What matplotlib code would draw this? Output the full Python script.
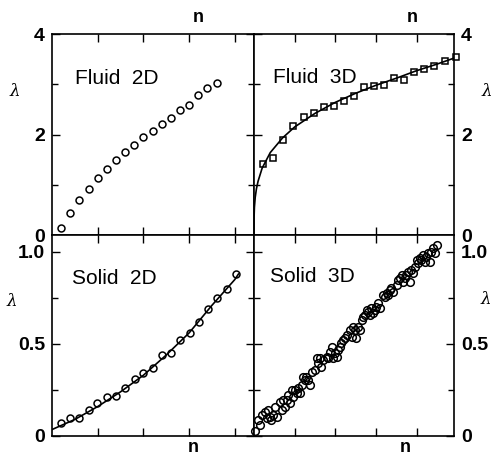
import matplotlib
matplotlib.use('Agg')
import matplotlib.pyplot as plt

plt.rcParams['font.family'] = ['Liberation Sans', 'DejaVu Sans']
plt.rcParams['mathtext.fontset'] = 'dejavuserif'

# ---------------- data ----------------
fluid2d_n = [0.2, 0.4, 0.6, 0.8, 1.0, 1.2, 1.4, 1.6, 1.8, 2.0, 2.2, 2.4, 2.6, 2.8, 3.0, 3.2, 3.4, 3.6]
fluid2d_l = [0.14, 0.43, 0.70, 0.92, 1.14, 1.32, 1.49, 1.66, 1.80, 1.95, 2.06, 2.20, 2.32, 2.49, 2.59, 2.78, 2.92, 3.03]

fluid3d_n = [0.23, 0.47, 0.72, 0.97, 1.23, 1.47, 1.73, 1.97, 2.22, 2.46, 2.71, 2.96, 3.20, 3.45, 3.69, 3.94, 4.18, 4.43, 4.69, 4.96]
fluid3d_l = [1.41, 1.53, 1.89, 2.16, 2.34, 2.43, 2.54, 2.57, 2.67, 2.77, 2.95, 2.97, 2.99, 3.12, 3.08, 3.25, 3.30, 3.37, 3.47, 3.55]
fluid3d_fit_n = [0.0, 0.002, 0.01, 0.03, 0.06, 0.1, 0.2, 0.4, 0.7, 1.0, 1.5, 2.0, 2.5, 3.0, 3.5, 4.0, 4.5, 4.92]
fluid3d_fit_l = [0.0, 0.35, 0.55, 0.75, 0.92, 1.07, 1.33, 1.64, 1.93, 2.15, 2.42, 2.64, 2.82, 2.98, 3.12, 3.27, 3.40, 3.52]

solid2d_n = [0.19, 0.39, 0.59, 0.80, 0.99, 1.20, 1.40, 1.60, 1.81, 2.00, 2.21, 2.41, 2.61, 2.81, 3.01, 3.22, 3.42, 3.62, 3.82, 4.03]
solid2d_l = [0.072, 0.10, 0.10, 0.14, 0.18, 0.21, 0.22, 0.26, 0.31, 0.34, 0.37, 0.44, 0.45, 0.52, 0.56, 0.62, 0.69, 0.75, 0.80, 0.88]
solid2d_fit_n = [0.0, 0.5, 1.0, 1.5, 2.0, 2.5, 3.0, 3.5, 4.0, 4.08]
solid2d_fit_l = [0.035, 0.09, 0.16, 0.24, 0.33, 0.44, 0.56, 0.71, 0.85, 0.88]

solid3d_n = [0.03, 0.11, 0.19, 0.31, 0.35, 0.43, 0.47, 0.56, 0.64, 0.68, 0.76, 0.80, 0.88, 0.93,
             0.97, 1.05, 1.09, 1.17, 1.25, 1.29, 1.38, 1.42, 1.50, 1.58, 1.62, 1.70, 1.79, 1.87,
             1.95, 1.99, 2.07, 2.15, 2.20, 2.28, 2.36, 2.44, 2.52, 2.56, 2.65, 2.73, 2.81, 2.89,
             2.93, 3.01, 3.10, 3.18, 3.26, 3.34, 3.42, 3.51, 3.59, 3.67, 3.75, 3.83, 3.87, 3.96,
             4.04, 4.12, 4.16, 4.24, 4.32, 4.36, 4.45, 4.50,
             0.15, 0.27, 0.39, 0.52, 0.72, 0.84, 1.01, 1.13, 1.21, 1.33, 1.54, 1.66, 1.83, 1.91,
             2.03, 2.11, 2.24, 2.40, 2.48, 2.60, 2.69, 2.77, 2.85, 2.97, 3.05, 3.22, 3.30, 3.38,
             3.55, 3.63, 3.71, 3.79, 3.91, 4.00, 4.08, 4.20, 4.28, 4.40]
solid3d_l = [0.029, 0.088, 0.114, 0.096, 0.141, 0.088, 0.114, 0.105, 0.187, 0.141, 0.159, 0.196, 0.178, 0.250,
             0.214, 0.232, 0.259, 0.277, 0.304, 0.322, 0.277, 0.350, 0.359, 0.395, 0.422, 0.413, 0.431, 0.458,
             0.422, 0.449, 0.467, 0.504, 0.522, 0.549, 0.576, 0.594, 0.531, 0.594, 0.630, 0.658, 0.676, 0.694,
             0.667, 0.703, 0.694, 0.766, 0.775, 0.793, 0.784, 0.821, 0.857, 0.839, 0.875, 0.839, 0.902, 0.920,
             0.938, 0.957, 0.984, 0.975, 0.947, 1.002, 0.993, 1.038,
             0.060, 0.132, 0.105, 0.159, 0.196, 0.223, 0.250, 0.232, 0.322, 0.304, 0.422, 0.377, 0.422, 0.486,
             0.431, 0.486, 0.531, 0.540, 0.576, 0.576, 0.649, 0.685, 0.658, 0.685, 0.721, 0.757, 0.766, 0.803,
             0.848, 0.875, 0.857, 0.893, 0.884, 0.957, 0.966, 0.947, 0.993, 1.020]

panel_titles = ['Fluid  2D', 'Fluid  3D', 'Solid  2D', 'Solid  3D']
top_ticks = [0, 2, 4]
top_ticklabels = ['0', '2', '4']
bot_ticks = [0, 0.5, 1.0]
bot_ticklabels = ['0', '0.5', '1.0']

# ---------------- layout ----------------
W, H = 493, 455
fig = plt.figure(figsize=(W / 100, H / 100), dpi=100)


def px_axes(x0, y0, x1, y1):
    return fig.add_axes([x0 / W, 1 - y1 / H, (x1 - x0) / W, (y1 - y0) / H])


ax_f2 = px_axes(52, 34, 254, 235)
ax_f3 = px_axes(254, 34, 454, 235)
ax_s2 = px_axes(52, 235, 254, 436)
ax_s3 = px_axes(254, 235, 454, 436)

mk = dict(ls='none', mfc='none', mec='black', mew=1.1, clip_on=False)

ax_f2.plot(fluid2d_n, fluid2d_l, marker='o', ms=5, **mk)
ax_f3.plot(fluid3d_fit_n, fluid3d_fit_l, color='black', lw=1.2)
ax_f3.plot(fluid3d_n, fluid3d_l, marker='s', ms=5, **mk)
ax_s2.plot(solid2d_fit_n, solid2d_fit_l, color='black', lw=1.2)
ax_s2.plot(solid2d_n, solid2d_l, marker='o', ms=5, **mk)
ax_s3.plot(solid3d_n, solid3d_l, marker='o', ms=5.5, **mk)

for ax, left in [(ax_f2, True), (ax_f3, False), (ax_s2, True), (ax_s3, False)]:
    ax.set_xlim(0, 4.42 if left else 4.92)
    ax.set_xticks([1, 2, 3, 4])
    ax.set_xticklabels([])
    for s in ax.spines.values():
        s.set_linewidth(1.2)
    ax.tick_params(which='both', direction='in', top=True, bottom=True, left=True, right=True,
                   labelbottom=False, labeltop=False,
                   labelleft=left, labelright=not left, width=1.0)
    ax.tick_params(which='major', length=6, pad=5, labelsize=14)
    ax.tick_params(which='minor', length=4)
    for lab in ax.get_yticklabels():
        lab.set_fontweight('bold')

for ax in (ax_f2, ax_f3):
    ax.set_ylim(0, 4)
    ax.set_yticks(top_ticks)
    ax.set_yticklabels(top_ticklabels, fontweight='bold')
    ax.set_yticks([1, 3], minor=True)
for ax in (ax_s2, ax_s3):
    ax.set_ylim(0, 1.092)
    ax.set_yticks(bot_ticks)
    ax.set_yticklabels(bot_ticklabels, fontweight='bold')
    ax.set_yticks([0.25, 0.75], minor=True)

# panel titles
def ftext(x, y, s, **kw):
    fig.text(x / W, 1 - y / H, s, **kw)

ftext(75, 78, panel_titles[0], fontsize=15, va='center', ha='left')
ftext(273, 77, panel_titles[1], fontsize=15, va='center', ha='left')
ftext(72, 278, panel_titles[2], fontsize=15, va='center', ha='left')
ftext(270, 277, panel_titles[3], fontsize=15, va='center', ha='left')

# n labels
for (x, y) in [(198, 17), (412, 17), (193, 448), (405, 447)]:
    ftext(x, y, 'n', fontsize=13, fontweight='bold', ha='center', va='center')

# lambda labels
for (x, y) in [(15, 90), (12, 300), (487, 90), (486, 299)]:
    ftext(x, y, r'$\lambda$', fontsize=12, ha='center', va='center')

fig.savefig('out.png', dpi=100)
